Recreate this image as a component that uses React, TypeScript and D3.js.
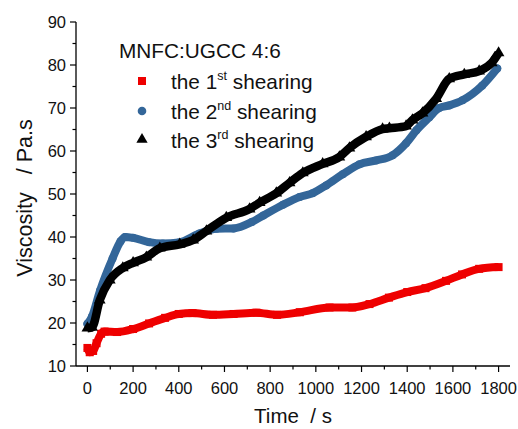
import React from "react";
import * as d3 from "d3";

const xTicks = [0, 200, 400, 600, 800, 1000, 1200, 1400, 1600, 1800];
const yTicks = [10, 20, 30, 40, 50, 60, 70, 80, 90];

const series1Time = [0, 10, 25, 40, 60, 75, 130, 200, 270, 340, 400, 460, 550, 640, 740, 830, 930, 1060, 1160, 1235, 1320, 1400, 1480, 1570, 1640, 1715, 1800];
const series1Value = [14.2, 13.2, 13.5, 15.3, 17.5, 18.0, 17.9, 18.6, 19.9, 21.2, 22.1, 22.3, 21.9, 22.1, 22.4, 21.9, 22.5, 23.6, 23.6, 24.4, 25.9, 27.2, 28.1, 29.8, 31.3, 32.6, 33.0];

const series2Time = [0, 20, 55, 110, 145, 165, 200, 270, 330, 400, 490, 565, 640, 720, 770, 856, 929, 986, 1045, 1118, 1191, 1264, 1336, 1395, 1440, 1496, 1540, 1584, 1642, 1728, 1794];
const series2Value = [19.8, 21.5, 27.5, 35.0, 39.0, 40.0, 39.8, 38.8, 38.5, 38.7, 40.8, 41.9, 42.0, 43.5, 45.0, 47.5, 49.3, 50.2, 52.0, 54.6, 56.9, 57.8, 59.0, 61.8, 64.8, 67.8, 70.0, 70.6, 71.8, 75.2, 79.2];

const series3Time = [0, 20, 54, 98, 155, 200, 258, 317, 404, 463, 521, 608, 710, 754, 827, 885, 943, 1030, 1103, 1147, 1220, 1292, 1322, 1395, 1423, 1467, 1527, 1584, 1650, 1715, 1770, 1800];
const series3Value = [18.8, 19.0, 25.3, 30.0, 32.8, 34.0, 35.3, 37.4, 38.3, 39.3, 41.4, 44.5, 46.5, 48.0, 50.2, 52.6, 54.9, 57.0, 58.6, 60.7, 63.3, 65.1, 65.3, 65.8, 67.2, 68.8, 72.2, 76.8, 77.8, 78.6, 80.5, 82.8];

const legendTitle = "MNFC:UGCC 4:6";
const legendLabels = [
  { pre: "the 1", sup: "st", post: " shearing" },
  { pre: "the 2", sup: "nd", post: " shearing" },
  { pre: "the 3", sup: "rd", post: " shearing" },
];

const FONT = "Arial, 'Liberation Sans', Helvetica, sans-serif";

export default function App() {
  const x = d3.scaleLinear().domain([-50, 1850]).range([76, 510]);
  const y = d3.scaleLinear().domain([10, 90]).range([366, 22]);

  const toPts = (t: number[], v: number[]) => t.map((tt, i) => [tt, v[i]] as [number, number]);
  const s1 = toPts(series1Time, series1Value);
  const s2 = toPts(series2Time, series2Value);
  const s3 = toPts(series3Time, series3Value);

  const line = d3
    .line<[number, number]>()
    .x((d) => x(d[0]))
    .y((d) => y(d[1]))
    .curve(d3.curveMonotoneX);

  const xMinor = d3.range(100, 1850, 200);
  const yMinor = d3.range(15, 90, 10);
  const tri = d3.symbol().type(d3.symbolTriangle).size(60)() as string;
  const triSmall = d3.symbol().type(d3.symbolTriangle).size(55)() as string;

  const red = "#ee0000";
  const blue = "#336699";
  const black = "#000000";

  return (
    <svg
      width={518}
      height={429}
      style={{ position: "fixed", left: 0, top: 0, display: "block", background: "#fff" }}
      fontFamily={FONT}
    >
      <rect x={0} y={0} width={518} height={429} fill="#fff" />
      {/* series */}
      <path d={line(s1) as string} fill="none" stroke={red} strokeWidth={8} strokeLinejoin="round" />
      {s1.map((d, i) => (
        <rect key={"r" + i} x={x(d[0]) - 4} y={y(d[1]) - 4} width={8} height={8} fill={red} />
      ))}
      <path d={line(s2) as string} fill="none" stroke={blue} strokeWidth={8} strokeLinejoin="round" strokeLinecap="round" />
      {s2.map((d, i) => (
        <circle key={"b" + i} cx={x(d[0])} cy={y(d[1])} r={4} fill={blue} />
      ))}
      <path d={line(s3) as string} fill="none" stroke={black} strokeWidth={8.5} strokeLinejoin="round" />
      {s3.map((d, i) => (
        <path key={"k" + i} d={tri} transform={`translate(${x(d[0])},${y(d[1])})`} fill={black} />
      ))}

      {/* axes */}
      <line x1={76} x2={510} y1={366} y2={366} stroke="#000" strokeWidth={1.3} />
      <line x1={76} x2={76} y1={22} y2={366} stroke="#000" strokeWidth={1.3} />
      {xTicks.map((t) => (
        <g key={"xt" + t}>
          <line x1={x(t)} x2={x(t)} y1={366} y2={372} stroke="#000" strokeWidth={1.2} />
          <text x={x(t)} y={394} fontSize={16.5} textAnchor="middle" fill="#111">
            {t}
          </text>
        </g>
      ))}
      {xMinor.map((t) => (
        <line key={"xm" + t} x1={x(t)} x2={x(t)} y1={366} y2={369.5} stroke="#000" strokeWidth={1.2} />
      ))}
      {yTicks.map((t) => (
        <g key={"yt" + t}>
          <line x1={70} x2={76} y1={y(t)} y2={y(t)} stroke="#000" strokeWidth={1.2} />
          <text x={66} y={y(t) + 6} fontSize={16.5} textAnchor="end" fill="#111">
            {t}
          </text>
        </g>
      ))}
      {yMinor.map((t) => (
        <line key={"ym" + t} x1={72.5} x2={76} y1={y(t)} y2={y(t)} stroke="#000" strokeWidth={1.2} />
      ))}

      {/* axis titles */}
      <text x={293} y={423} fontSize={20.5} textAnchor="middle" fill="#111" style={{ whiteSpace: "pre" }}>
        {"Time  / s"}
      </text>
      <text
        transform={`translate(32,198) rotate(-90)`}
        fontSize={21.5}
        textAnchor="middle"
        fill="#111"
        style={{ whiteSpace: "pre" }}
      >
        {"Viscosity   / Pa.s"}
      </text>

      {/* legend */}
      <text x={119} y={58} fontSize={20.8} fill="#111">
        {legendTitle}
      </text>
      <rect x={138} y={77} width={8} height={8} fill={red} />
      <circle cx={142} cy={111} r={4.3} fill={blue} />
      <path d={triSmall} transform="translate(142,139.5)" fill={black} />
      {legendLabels.map((l, i) => (
        <text key={"lg" + i} x={171} y={89 + i * 29.5} fontSize={20.8} fill="#111" style={{ whiteSpace: "pre" }}>
          {l.pre}
          <tspan fontSize={12.5} dy={-9}>
            {l.sup}
          </tspan>
          <tspan dy={9}>{l.post}</tspan>
        </text>
      ))}
    </svg>
  );
}
